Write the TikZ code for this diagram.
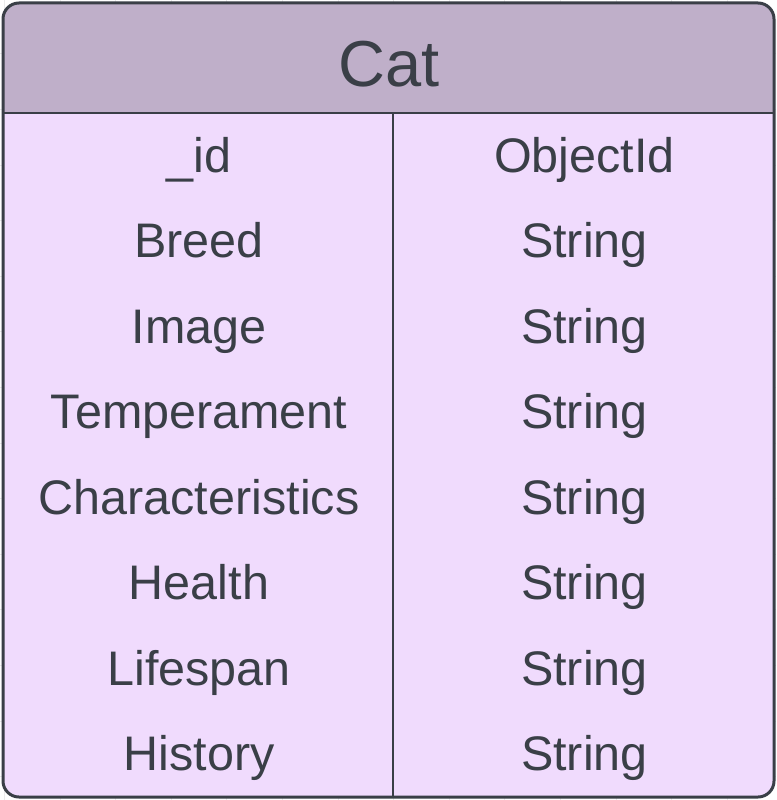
\documentclass[tikz,border=0pt]{standalone}
\usepackage{fontspec}
\setmainfont{Liberation Sans}
\definecolor{hdr}{HTML}{BFAFC9}
\definecolor{bodyc}{HTML}{F0DBFD}
\definecolor{ink}{HTML}{3A3F47}
\definecolor{gridc}{HTML}{EBEBEB}
\begin{document}
\begin{tikzpicture}[x=1pt,y=-1pt,
  celltext/.style={font=\fontsize{48.5}{56}\selectfont, text=ink, anchor=base, inner sep=0pt},
  titletext/.style={font=\fontsize{65}{76}\selectfont, text=ink, anchor=base, inner sep=0pt}]
\useasboundingbox (0,0) rectangle (776,800);
\fill[white] (0,0) rectangle (776,800);
% faint background grid
\foreach \i in {0,...,14} {
  \draw[gridc, line width=0.8pt] ({4.4+55.6*\i},0) -- ({4.4+55.6*\i},800);
}
\foreach \j in {0,...,14} {
  \draw[gridc, line width=0.8pt] (0,{-1.8+55.6*\j}) -- (776,{-1.8+55.6*\j});
}
% body and header
\fill[bodyc, rounded corners=16pt] (3,3) rectangle (774,797);
\begin{scope}
  \clip[rounded corners=16pt] (3,3) rectangle (774,797);
  \fill[hdr] (3,3) rectangle (774,113);
\end{scope}
\draw[ink, line width=2.6pt] (3,113) -- (774,113);
\draw[ink, line width=2.4pt] (393,113) -- (393,797);
\draw[ink, line width=3pt, rounded corners=16pt] (3,3) rectangle (774,797);
% title
\node[titletext] (title) at (389,86.5) {Cat};
% rows
\foreach \n/\f/\t [count=\k from 0] in {id/\_id/ObjectId, breed/Breed/String, image/Image/String, temp/Temperament/String, char/Characteristics/String, health/Health/String, life/Lifespan/String, hist/History/String} {
  \node[celltext] (f-\n) at (199,{172.3+85.5*\k}) {\f};
  \node[celltext] (t-\n) at (584.5,{172.3+85.5*\k}) {\t};
}
\end{tikzpicture}
\end{document}
